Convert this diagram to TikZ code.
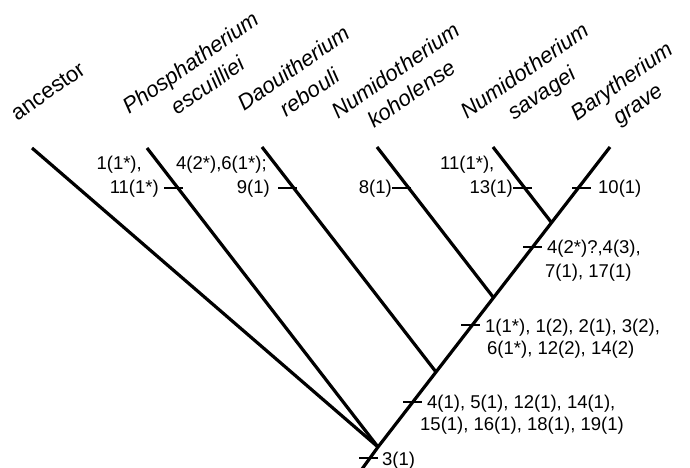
\documentclass[tikz,border=0pt]{standalone}
\usepackage{fontspec}
\setmainfont{Liberation Sans}
\begin{document}
\begin{tikzpicture}[x=1pt,y=-1pt,
  branch/.style={line width=3.2pt},
  tickmark/.style={line width=1.6pt},
  taxon/.style={font=\fontsize{22}{28}\selectfont\itshape, rotate=35, anchor=base, inner sep=0pt},
  plainlab/.style={font=\fontsize{22}{28}\selectfont, rotate=35, anchor=base, inner sep=0pt},
  charlab/.style={font=\fontsize{18.5}{22}\selectfont, inner sep=0pt}]
\useasboundingbox (0,0) rectangle (690,468);
% tips, root and junctions
\coordinate (root) at (378,447);
\coordinate (base) at (362,469);
\coordinate (anc) at (32,148);
\coordinate (pho) at (147,148);
\coordinate (dao) at (262,147);
\coordinate (nko) at (377,147);
\coordinate (nsa) at (493,147);
\coordinate (bar) at (610,147);
\coordinate (jdao) at (436,372);
\coordinate (jnko) at (493.5,297.6);
\coordinate (jnsa) at (551.5,222.6);
% branches
\draw[branch] (anc) -- (root);
\draw[branch] (pho) -- (root);
\draw[branch] (base) -- (root) -- (bar);
\draw[branch] (dao) -- (jdao);
\draw[branch] (nko) -- (jnko);
\draw[branch] (nsa) -- (jnsa);
% tick marks
\coordinate (kpho) at (164,188);
\coordinate (kdao) at (278,188);
\coordinate (knko) at (392,188);
\coordinate (knsa) at (513,188);
\coordinate (kbar) at (572,188);
\coordinate (kt1) at (523,247);
\coordinate (kt2) at (461,325);
\coordinate (kt3) at (403,402);
\coordinate (kt4) at (359,458);
\foreach \k in {kpho,kdao,knko,knsa,kbar,kt1,kt2,kt3,kt4}
  \draw[tickmark] (\k) -- ++(19,0);
% taxon labels
\node[plainlab] (tanc) at (52,97) {ancestor};
\node[taxon] (tpho1) at (195,69) {Phosphatherium};
\node[taxon] (tpho2) at (212,92) {escuilliei};
\node[taxon] (tdao1) at (298,74) {Daouitherium};
\node[taxon] (tdao2) at (314,99) {rebouli};
\node[taxon] (tnko1) at (400,77) {Numidotherium};
\node[taxon] (tnko2) at (416,100) {koholense};
\node[taxon] (tnsa1) at (529,77) {Numidotherium};
\node[taxon] (tnsa2) at (546,99) {savagei};
\node[taxon] (tbar1) at (626,87) {Barytherium};
\node[taxon] (tbar2) at (642,110) {grave};
% character labels
\node[charlab, anchor=base east] (l1a) at (142,169) {1(1*),};
\node[charlab, anchor=base east] (l1b) at (159,193) {11(1*)};
\node[charlab, anchor=base west] (l2a) at (176,169) {4(2*),6(1*);};
\node[charlab, anchor=base east] (l2b) at (270,193) {9(1)};
\node[charlab, anchor=base east] (l3) at (392,193) {8(1)};
\node[charlab, anchor=base west] (l4a) at (440,169) {11(1*),};
\node[charlab, anchor=base east] (l4b) at (513,193) {13(1)};
\node[charlab, anchor=base west] (l5) at (598,193) {10(1)};
\node[charlab, anchor=base west] (l6a) at (547,253) {4(2*)?,4(3),};
\node[charlab, anchor=base west] (l6b) at (545,277) {7(1), 17(1)};
\node[charlab, anchor=base west] (l7a) at (485,332) {1(1*), 1(2), 2(1), 3(2),};
\node[charlab, anchor=base west] (l7b) at (487,354) {6(1*), 12(2), 14(2)};
\node[charlab, anchor=base west] (l8a) at (427,408) {4(1), 5(1), 12(1), 14(1),};
\node[charlab, anchor=base west] (l8b) at (420,430) {15(1), 16(1), 18(1), 19(1)};
\node[charlab, anchor=base west] (l9) at (382,465) {3(1)};
\end{tikzpicture}
\end{document}
